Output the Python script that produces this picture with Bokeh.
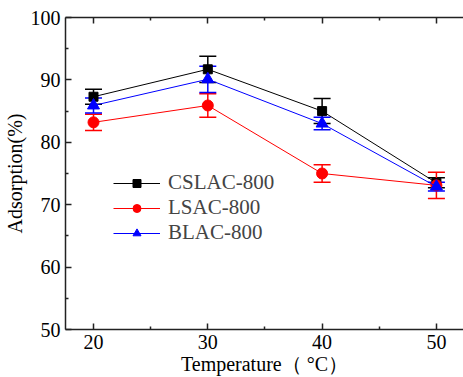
from bokeh.plotting import figure
from bokeh.models import (ColumnDataSource, Whisker, TeeHead, Range1d, LinearAxis,
                          FixedTicker, Legend, LegendItem)
from bokeh.embed import file_html
from bokeh.resources import INLINE

temps = [20, 30, 40, 50]
cslac = [87.3, 91.7, 85.0, 73.5]
cslac_err = [1.2, 2.1, 2.0, 0.8]
lsac = [83.2, 85.9, 75.0, 73.1]
lsac_err = [1.3, 1.9, 1.4, 2.1]
blac = [85.9, 90.1, 83.0, 72.9]
blac_err = [1.2, 2.1, 1.0, 0.7]
names = ["CSLAC-800", "LSAC-800", "BLAC-800"]
xticks = [20, 30, 40, 50]
yticks = [50, 60, 70, 80, 90, 100]

FONT = "'Liberation Serif', 'Times New Roman', 'DejaVu Serif', serif"

p = figure(width=463, height=377, output_backend="svg", toolbar_location=None,
           x_range=Range1d(17.55, 52.37), y_range=Range1d(50, 100),
           min_border_left=65, min_border_right=0, min_border_top=17, min_border_bottom=48)
p.outline_line_color = None
p.xgrid.visible = False
p.ygrid.visible = False
p.background_fill_color = "white"

for ax in (p.xaxis[0], p.yaxis[0]):
    ax.major_tick_in = 6
    ax.major_tick_out = 0
    ax.minor_tick_in = 3
    ax.minor_tick_out = 0
    ax.axis_line_width = 1.5
    ax.axis_line_color = "#222222"
    ax.major_tick_line_color = "#222222"
    ax.minor_tick_line_color = "#222222"
    ax.major_tick_line_width = 1.5
    ax.minor_tick_line_width = 1.5
    ax.major_label_text_font = FONT
    ax.major_label_text_font_size = "20px"
    ax.major_label_text_color = "black"
    ax.axis_label_text_font = FONT
    ax.axis_label_text_font_size = "20px"
    ax.axis_label_text_font_style = "normal"
    ax.axis_label_text_color = "black"

p.xaxis.ticker = FixedTicker(ticks=xticks, minor_ticks=[25, 35, 45])
p.yaxis.ticker = FixedTicker(ticks=yticks, minor_ticks=[55, 65, 75, 85, 95])
p.xaxis.axis_label = "Temperature（ °C）"
p.yaxis.axis_label = "Adsorption(%)"
p.xaxis.major_label_standoff = 5
p.xaxis.axis_label_standoff = 1
p.yaxis.major_label_standoff = 5
p.yaxis.axis_label_standoff = 2

top = LinearAxis(ticker=FixedTicker(ticks=xticks, minor_ticks=[25, 35, 45]))
top.major_label_overrides = {t: "" for t in xticks}
top.major_label_standoff = 0
top.major_tick_in = 6
top.major_tick_out = 0
top.minor_tick_in = 3
top.minor_tick_out = 0
top.axis_line_width = 1.5
top.axis_line_color = "#222222"
top.major_tick_line_color = "#222222"
top.minor_tick_line_color = "#222222"
top.major_tick_line_width = 1.5
top.minor_tick_line_width = 1.5
p.add_layout(top, "above")

series = [
    (cslac, cslac_err, "black", "square", 9),
    (lsac, lsac_err, "red", "circle", 11),
    (blac, blac_err, "blue", "triangle", 12),
]
items = []
for (vals, errs, color, marker, size), name in zip(series, names):
    src = ColumnDataSource(dict(x=temps, y=vals,
                                lo=[v - e for v, e in zip(vals, errs)],
                                hi=[v + e for v, e in zip(vals, errs)]))
    w = Whisker(source=src, base="x", upper="hi", lower="lo", line_color=color, line_width=1.5,
                upper_head=TeeHead(size=17, line_color=color, line_width=1.5),
                lower_head=TeeHead(size=17, line_color=color, line_width=1.5))
    p.add_layout(w)
    r1 = p.line("x", "y", source=src, line_color=color, line_width=1)
    r2 = p.scatter("x", "y", source=src, marker=marker, size=size, fill_color=color, line_color=color)
    items.append(LegendItem(label=name, renderers=[r1, r2]))

legend = Legend(items=items, location=(48, 84), background_fill_alpha=0, border_line_color=None,
                label_text_font=FONT, label_text_font_size="21px", glyph_width=47, glyph_height=20,
                spacing=0, label_standoff=8, padding=0, margin=0)
p.add_layout(legend, "center")

open("out.html", "w").write(file_html(p, INLINE))
